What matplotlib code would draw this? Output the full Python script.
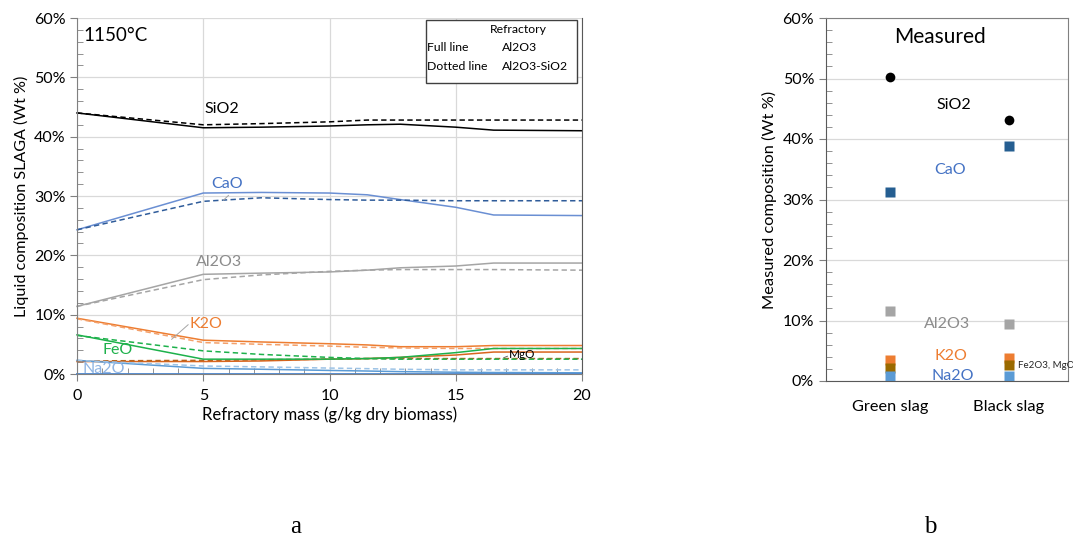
import matplotlib
matplotlib.use("Agg")
import matplotlib.pyplot as plt
from matplotlib.ticker import MultipleLocator, FuncFormatter
from matplotlib.patches import Rectangle

plt.rcParams['font.family'] = ['Lato', 'DejaVu Sans']

# ---------------- Panel a data ----------------
refractory_mass = [0, 5, 7.3, 10, 11.5, 12.8, 15, 16.5, 20]

sio2_full   = [44.0, 41.5, 41.6, 41.8, 42.0, 42.1, 41.6, 41.1, 41.0]
sio2_dot    = [44.0, 42.0, 42.2, 42.5, 42.8, 42.8, 42.8, 42.8, 42.8]
cao_full    = [24.3, 30.5, 30.6, 30.5, 30.2, 29.4, 28.1, 26.8, 26.7]
cao_dot     = [24.3, 29.1, 29.7, 29.4, 29.3, 29.3, 29.2, 29.2, 29.2]
al2o3_full  = [11.4, 16.8, 17.0, 17.2, 17.5, 17.9, 18.2, 18.7, 18.7]
al2o3_dot   = [11.4, 15.9, 16.7, 17.3, 17.5, 17.6, 17.6, 17.6, 17.5]
k2o_full    = [9.4, 5.7, 5.4, 5.1, 4.9, 4.6, 4.6, 4.8, 4.8]
k2o_dot     = [9.3, 5.3, 5.0, 4.7, 4.5, 4.4, 4.3, 4.3, 4.3]
feo_full    = [6.6, 2.5, 2.5, 2.5, 2.6, 2.8, 3.6, 4.3, 4.3]
feo_dot     = [6.5, 3.9, 3.3, 2.8, 2.6, 2.5, 2.5, 2.5, 2.5]
mgo_full    = [2.1, 2.1, 2.2, 2.5, 2.6, 2.8, 3.2, 3.7, 3.7]
mgo_dot     = [2.2, 2.3, 2.4, 2.5, 2.6, 2.6, 2.6, 2.6, 2.6]
na2o_full   = [2.3, 0.95, 0.8, 0.6, 0.5, 0.4, 0.3, 0.25, 0.2]
na2o_dot    = [2.3, 1.35, 1.2, 1.0, 0.9, 0.8, 0.7, 0.7, 0.7]
other_full  = [0.05, 0.05, 0.05, 0.05, 0.05, 0.05, 0.05, 0.05, 0.05]

# ---------------- Panel b data ----------------
slag_types = ["Green slag", "Black slag"]
meas_sio2  = [50.3, 43.1]
meas_cao   = [31.2, 38.8]
meas_al2o3 = [11.6, 9.4]
meas_k2o   = [3.5, 3.8]
meas_fe2o3 = [2.2, 2.6]
meas_na2o  = [0.8, 0.9]

C_BLACK = '#000000'
C_CAO_F = '#6A8FD3'
C_CAO_D = '#2F5C9A'
C_GRAY  = '#A5A5A5'
C_K2O   = '#ED7D31'
C_FEO   = '#1DB14B'
C_MGO   = '#D9651E'
C_NA2O  = '#5B9BD5'
C_NA2O_D = '#9DC3E6'
C_OTHER = '#4A86D0'
C_FE2O3 = '#9A6A00'
C_CAO_M = '#255E91'

fig = plt.figure(figsize=(10.73, 5.40), dpi=100)

pct = FuncFormatter(lambda v, p: f"{int(round(v))}%")

# ---------------- Panel a ----------------
ax = fig.add_axes([77/1073, 1-374/540, 505/1073, 356/540])
ax.set_xlim(0, 20)
ax.set_ylim(0, 60)
ax.xaxis.set_major_locator(MultipleLocator(5))
ax.xaxis.set_minor_locator(MultipleLocator(1))
ax.yaxis.set_major_locator(MultipleLocator(10))
ax.yaxis.set_minor_locator(MultipleLocator(2))
ax.yaxis.set_major_formatter(pct)
ax.grid(True, which='major', color='#D9D9D9', lw=0.9)
ax.set_axisbelow(True)
ax.tick_params(which='major', direction='out', length=5, labelsize=11.5, color='#808080', pad=3)
ax.tick_params(which='minor', direction='in', length=4, color='#808080')
ax.tick_params(axis='x', which='major', pad=6)
for s in ['left', 'bottom']:
    ax.spines[s].set_color('#808080')
ax.spines['top'].set_visible(False)
ax.spines['right'].set_color('#595959')

dash = (0, (3.5, 2.2))
series = [
    (sio2_full, sio2_dot, C_BLACK, C_BLACK),
    (cao_full, cao_dot, C_CAO_F, C_CAO_D),
    (al2o3_full, al2o3_dot, C_GRAY, C_GRAY),
    (k2o_full, k2o_dot, C_K2O, '#F4A06A'),
    (mgo_full, mgo_dot, C_MGO, '#B8641E'),
    (feo_full, feo_dot, C_FEO, C_FEO),
    (na2o_full, na2o_dot, C_NA2O, C_NA2O_D),
]
for full, dot, cf, cd in series:
    ax.plot(refractory_mass, full, color=cf, lw=1.1, clip_on=False)
    ax.plot(refractory_mass, dot, color=cd, lw=1.1, linestyle=dash, clip_on=False)
ax.plot(refractory_mass, other_full, color=C_OTHER, lw=1.3, clip_on=False)

lf = 11.5
ax.text(5.05, 44.7, "SiO2", color=C_BLACK, fontsize=lf, va='center', ha='left')
ax.text(5.3, 32.1, "CaO", color='#4472C4', fontsize=lf, va='center', ha='left')
ax.plot([5.8, 6.0], [29.3, 30.1], color='#A5A5A5', lw=0.7)
ax.text(4.7, 18.8, "Al2O3", color='#8C8C8C', fontsize=lf, va='center', ha='left')
ax.text(4.45, 8.4, "K2O", color=C_K2O, fontsize=lf, va='center', ha='left')
ax.plot([3.75, 4.4], [5.85, 8.3], color='#A5A5A5', lw=0.7)
ax.text(1.0, 4.0, "FeO", color=C_FEO, fontsize=lf, va='center', ha='left')
ax.text(0.2, 0.9, "Na2O", color='#8FB4E3', fontsize=lf, va='center', ha='left')
ax.text(17.1, 3.3, "MgO", color=C_BLACK, fontsize=8.5, va='center', ha='left')
ax.plot([16.9, 17.05], [2.75, 3.0], color='#595959', lw=0.6)
ax.text(0.25, 57.0, "1150°C", color=C_BLACK, fontsize=13.5, va='center', ha='left')

ax.set_xlabel("Refractory mass (g/kg dry biomass)", fontsize=12, labelpad=2)
ax.set_ylabel("Liquid composition SLAGA (Wt %)", fontsize=11.6, labelpad=4)

# legend box
ax.add_patch(Rectangle((0.692, 0.817), 0.298, 0.177, transform=ax.transAxes,
                       facecolor='white', edgecolor='#404040', lw=1.0, zorder=5))
tb = dict(transform=ax.transAxes, fontsize=8.8, zorder=6, va='center')
ax.text(0.874, 0.969, "Refractory", ha='center', **tb)
ax.text(0.694, 0.916, "Full line", ha='left', **tb)
ax.text(0.841, 0.916, "Al2O3", ha='left', **tb)
ax.text(0.694, 0.863, "Dotted line", ha='left', **tb)
ax.text(0.841, 0.863, "Al2O3-SiO2", ha='left', **tb)

# ---------------- Panel b ----------------
bx = fig.add_axes([826/1073, 1-381/540, 242/1073, 363/540])
pos = [0, 1]
bx.set_xlim(-0.54, 1.5)
bx.set_ylim(0, 60)
bx.yaxis.set_major_locator(MultipleLocator(10))
bx.yaxis.set_minor_locator(MultipleLocator(2))
bx.yaxis.set_major_formatter(pct)
bx.set_xticks(pos)
bx.set_xticklabels(slag_types)
bx.grid(True, axis='y', which='major', color='#D9D9D9', lw=0.9)
bx.set_axisbelow(True)
bx.tick_params(axis='y', which='major', direction='out', length=5, labelsize=11.5, color='#808080')
bx.tick_params(axis='y', which='minor', direction='in', length=4, color='#808080')
bx.tick_params(axis='x', length=0, labelsize=11.8, pad=14)
for s in bx.spines.values():
    s.set_color('#808080')
bx.spines['left'].set_color('#595959')
bx.spines['bottom'].set_color('#595959')

bx.plot(pos, meas_sio2, 'o', color='black', ms=7, mec='none')
bx.plot(pos, meas_cao, 's', color=C_CAO_M, ms=7, mec='none')
bx.plot(pos, meas_al2o3, 's', color=C_GRAY, ms=7, mec='none')
bx.plot(pos, meas_k2o, 's', color=C_K2O, ms=7, mec='none')
bx.plot(pos, meas_fe2o3, 's', color=C_FE2O3, ms=7, mec='none')
bx.plot(pos, meas_na2o, 's', color=C_NA2O, ms=7, mec='none')

bx.text(0.42, 56.9, "Measured", fontsize=15, ha='center', va='center')
bx.text(0.54, 45.6, "SiO2", fontsize=lf, ha='center', va='center', color='black')
bx.text(0.51, 34.85, "CaO", fontsize=lf, ha='center', va='center', color='#4472C4')
bx.text(0.48, 9.4, "Al2O3", fontsize=lf, ha='center', va='center', color='#8C8C8C')
bx.text(0.51, 4.1, "K2O", fontsize=lf, ha='center', va='center', color=C_K2O)
bx.text(0.53, 0.8, "Na2O", fontsize=lf, ha='center', va='center', color='#4472C4')
bx.text(1.08, 2.5, "Fe2O3, MgO", fontsize=7, ha='left', va='center', color='#262626')
bx.set_ylabel("Measured composition (Wt %)", fontsize=11.8, labelpad=4)

# panel letters
fig.text(296/1073, 1-527/540, "a", fontsize=18, family='Liberation Serif', ha='center', va='center')
fig.text(930/1073, 1-527/540, "b", fontsize=18, family='Liberation Serif', ha='center', va='center')

fig.savefig("out.png", dpi=100)
